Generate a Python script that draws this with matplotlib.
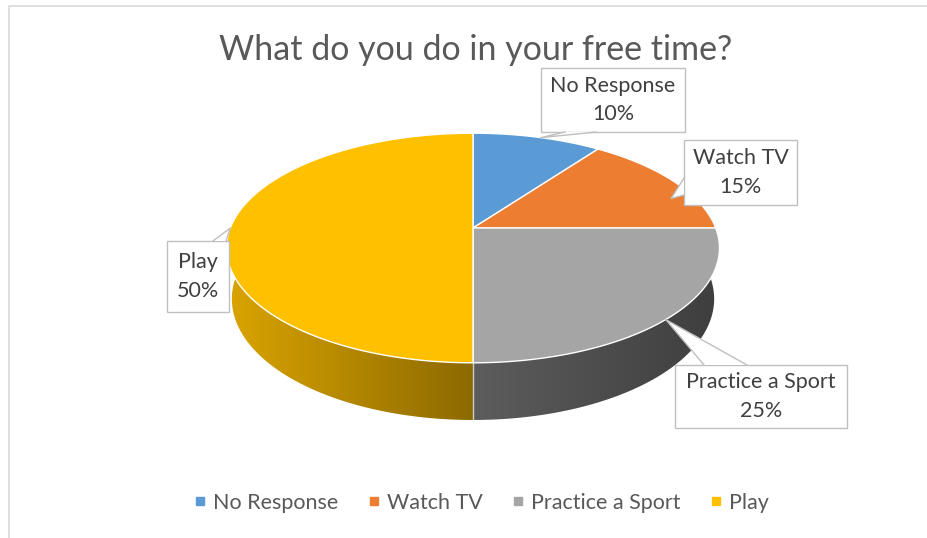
import matplotlib.pyplot as plt
import numpy as np
from matplotlib.patches import Polygon, Rectangle
from matplotlib.lines import Line2D
from matplotlib.colors import to_rgb

plt.rcParams['font.family'] = ['Lato', 'DejaVu Sans']

title = 'What do you do in your free time?'
labels = ['No Response', 'Watch TV', 'Practice a Sport', 'Play']
shares = [10, 15, 25, 50]
colors = ['#5B9BD5', '#ED7D31', '#A5A5A5', '#FFC000']

# callout boxes (left, top, width, height) in px, pointer base and tip (rim angle, radius)
box_rects = [(541, 68, 144, 64), (684, 140, 113, 65), (675, 365, 172, 63), (167, 241, 62, 71)]
wedge_base = [((565, 132), (596, 132)), ((684, 178), (684, 195)),
              ((704, 365), (747, 365)), ((213, 241), (226, 241))]
tip_at = [(19, 1.0), (72, 0.9), (136, 1.0), (270, 1.0)]

# pie geometry in pixel space, simple perspective camera
CX, CY = 473, 228
K = 242.7
TILT = np.radians(27.3)
DIST = 5.1
THICK = 0.238


def project(x, y, z=0.0):
    s, c = np.sin(TILT), np.cos(TILT)
    depth = DIST + y * c - z * s
    u = y * s + z * c
    f = K * DIST
    return CX + f * x / depth, CY - f * u / depth


def rim(theta, z=0.0, r=1.0):
    t = np.radians(theta)
    return project(r * np.sin(t), r * np.cos(t), z)


def shade_factor(nx):
    return np.where(nx < 0, 0.55 - 0.30 * nx, 0.56 - 0.18 * nx)


fig = plt.figure(figsize=(9.27, 5.38), dpi=100)
ax = fig.add_axes([0, 0, 1, 1])

# chart border
ax.plot([9.5, 9.5, 930], [540, 5.5, 5.5], color='#D9D9D9', lw=1.2)

bounds = np.concatenate([[0], np.cumsum(shares)]) / sum(shares) * 360

# side walls: one polygon per slice, filled with a left-to-right shading gradient
wall_order = sorted(range(len(shares)), key=lambda i: np.cos(np.radians((bounds[i] + bounds[i + 1]) / 2)),
                    reverse=True)
for i in wall_order:
    a0, a1 = bounds[i], bounds[i + 1]
    ts = np.linspace(a0, a1, 200)
    pts = [rim(t) for t in ts] + [rim(t, -THICK) for t in ts[::-1]]
    poly = Polygon(pts, closed=True, facecolor='none', edgecolor='none')
    ax.add_patch(poly)
    xs = np.array([p[0] for p in pts])
    ys = np.array([p[1] for p in pts])
    gx = np.linspace(xs.min() - 2, xs.max() + 2, 300)
    nx = np.clip((gx - CX) / K, -1, 1)
    grad = np.array(to_rgb(colors[i]))[None, None, :] * shade_factor(nx)[None, :, None]
    im = ax.imshow(np.clip(grad, 0, 1), extent=[gx[0], gx[-1], ys.max() + 2, ys.min() - 2],
                   aspect='auto', interpolation='bilinear', zorder=1)
    im.set_clip_path(poly)

# seams between walls on the front side
for b in bounds:
    if np.cos(np.radians(b)) < 0:
        (x1, y1), (x2, y2) = rim(b), rim(b, -THICK)
        ax.plot([x1, x2], [y1, y2], color='white', lw=1, alpha=0.7, zorder=2)

# top faces
for i, col in enumerate(colors):
    ts = np.linspace(bounds[i], bounds[i + 1], 200)
    pts = [project(0, 0)] + [rim(t) for t in ts]
    ax.add_patch(Polygon(pts, closed=True, facecolor=col, edgecolor='white', lw=1, zorder=3))

# data label callouts
for i, lab in enumerate(labels):
    left, top, w, h = box_rects[i]
    ax.add_patch(Rectangle((left, top), w, h, facecolor='white', edgecolor='#BFBFBF', lw=1, zorder=5))
    b1, b2 = wedge_base[i]
    tip = rim(tip_at[i][0], r=tip_at[i][1])
    ax.add_patch(Polygon([b1, tip, b2], closed=True, facecolor='white', edgecolor='none', zorder=6))
    ax.plot([b1[0], tip[0], b2[0]], [b1[1], tip[1], b2[1]], color='#BFBFBF', lw=1, zorder=6)
    ax.text(left + w / 2, top + h / 2, f'{lab}\n{shares[i]}%', ha='center', va='center',
            fontsize=15.5, color='#404040', linespacing=1.55, zorder=7)

ax.text(476, 50, title, ha='center', va='center', fontsize=24.5, color='#595959')

handles = [Line2D([], [], marker='s', linestyle='none', markersize=6,
                  markerfacecolor=c, markeredgecolor=c) for c in colors]
ax.legend(handles, labels, loc='center', bbox_to_anchor=(481 / 927, 1 - 503 / 538),
          ncol=4, frameon=False, fontsize=15.5, labelcolor='#595959',
          handletextpad=0.3, columnspacing=1.35, handlelength=0.6)

ax.set_xlim(0, 927)
ax.set_ylim(538, 0)
ax.axis('off')

fig.savefig('out.png', dpi=100, facecolor='white')
